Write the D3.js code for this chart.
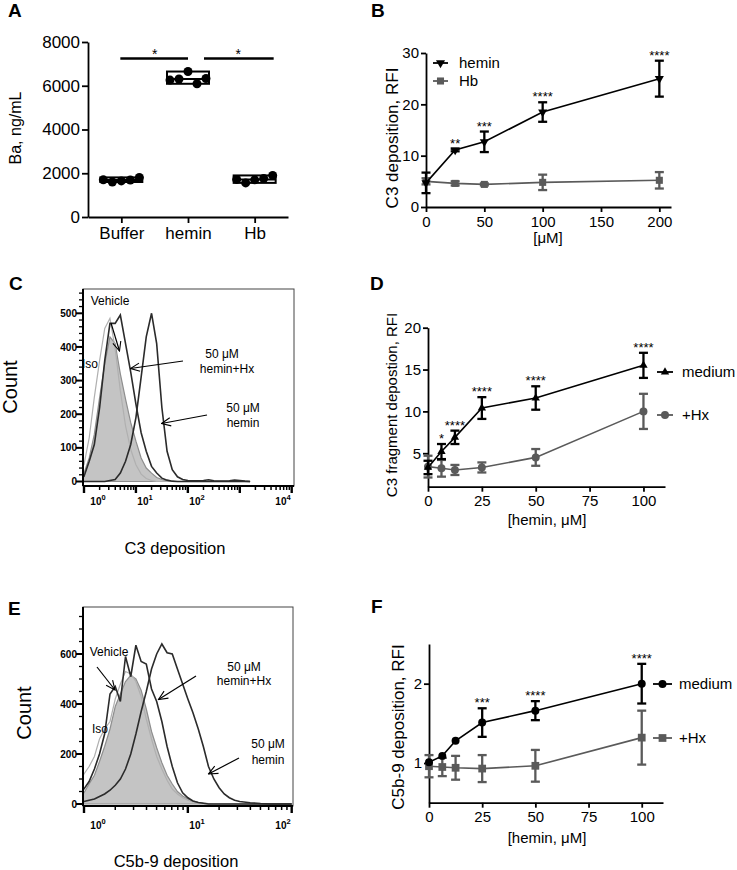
<!DOCTYPE html>
<html>
<head>
<meta charset="utf-8">
<script src="https://cdn.jsdelivr.net/npm/d3@7"></script>
<style>
  body { margin: 0; background: #fff; }
  svg { display: block; }
</style>
</head>
<body>
<script>
// ---- A: Ba, ng/mL ----
var groupsA = ["Buffer", "hemin", "Hb"];
var baBuffer = [1700, 1600, 1650, 1690, 1810];
var baHemin = [6260, 6310, 6650, 6090, 6330];
var baHb = [1720, 1560, 1700, 1760, 1900];

// ---- B: C3 deposition vs dose ----
var doseB = [0, 25, 50, 100, 200];
var heminB = [4.7, 11.1, 12.7, 18.5, 25.0];
var heminBsd = [2.0, 0.25, 2.0, 1.9, 3.5];
var hbB = [5.0, 4.6, 4.4, 4.8, 5.2];
var hbBsd = [0.6, 0.4, 0.2, 1.5, 1.6];
var starsB = ["", "**", "***", "****", "****"];

// ---- C: flow histogram, C3 deposition ----
var binsC = [0.79, 1.0, 1.26, 1.58, 2.0, 2.51, 3.16, 3.98, 5.01, 6.31, 7.94, 10, 12.6, 15.8, 20, 25.1, 31.6, 39.8,
             50.1, 63.1, 79.4, 100, 126, 158, 200, 251, 316, 398, 501, 631, 794, 1000, 1260, 1580];
var isoC   = [40, 50, 130, 250, 360, 455, 485, 395, 270, 165, 95, 50, 22, 9, 3, 0, 0, 0,
              0, 0, 0, 0, 0, 0, 0, 0, 0, 0, 0, 0, 0, 0, 0, 0];
var vehC   = [20, 25, 70, 140, 250, 350, 430, 410, 320, 245, 175, 120, 70, 40, 25, 12, 6, 2,
              0, 0, 0, 0, 0, 0, 0, 0, 0, 0, 0, 0, 0, 0, 0, 0];
var hxC    = [10, 15, 60, 110, 220, 360, 470, 470, 495, 410, 325, 230, 145, 90, 45, 25, 10, 4,
              1, 0, 0, 0, 0, 0, 0, 0, 0, 0, 0, 0, 0, 0, 0, 0];
var heminC = [0, 0, 0, 0, 0, 0, 3, 6, 25, 60, 110, 190, 310, 430, 500, 410, 220, 90,
              35, 14, 6, 3, 2, 2, 3, 5, 2, 1, 1, 2, 4, 3, 1, 0];

// ---- D: C3 fragment deposition ----
var doseD = [0, 6.25, 12.5, 25, 50, 100];
var mediumD = [3.3, 5.2, 6.9, 10.4, 11.6, 15.5];
var mediumDsd = [0.8, 0.9, 0.8, 1.3, 1.4, 1.5];
var hxD = [3.4, 3.2, 3.0, 3.3, 4.5, 10.0];
var hxDsd = [1.3, 1.0, 0.6, 0.6, 1.0, 2.1];
var starsD = ["", "*", "****", "****", "****", "****"];

// ---- E: flow histogram, C5b-9 deposition ----
var binsE = [0.9, 1.0, 1.12, 1.26, 1.41, 1.58, 1.78, 2.0, 2.24, 2.51, 2.82, 3.16, 3.55, 3.98, 4.47, 5.01, 5.62, 6.31, 7.08,
             7.94, 8.91, 10, 11.2, 12.6, 14.1, 15.8, 17.8, 20, 22.4, 25.1, 28.2, 31.6, 39.8, 50.1, 63.1, 79.4, 100];
var isoE   = [90, 120, 150, 190, 260, 300, 330, 420, 480, 530, 520, 490, 430, 340, 260, 190, 140, 95, 60,
              40, 25, 15, 8, 4, 2, 0, 0, 0, 0, 0, 0, 0, 0, 0, 0, 0, 0];
var vehE   = [20, 45, 80, 115, 170, 230, 300, 390, 440, 490, 515, 500, 455, 380, 290, 225, 165, 115, 80,
              50, 32, 20, 12, 7, 4, 2, 0, 0, 0, 0, 0, 0, 0, 0, 0, 0, 0];
var hxE    = [50, 60, 90, 140, 200, 280, 440, 470, 410, 590, 510, 635, 570, 560, 460, 410, 330, 230, 150,
              85, 45, 25, 12, 6, 3, 0, 0, 0, 0, 0, 0, 0, 0, 0, 0, 0, 0];
var heminE = [8, 10, 15, 20, 30, 40, 55, 75, 100, 140, 200, 280, 370, 450, 540, 600, 640, 605, 600,
              540, 480, 420, 365, 300, 230, 150, 100, 65, 40, 25, 15, 10, 5, 2, 0, 0, 0];

// ---- F: C5b-9 deposition ----
var doseF = [0, 6.25, 12.5, 25, 50, 100];
var mediumF = [1.01, 1.09, 1.28, 1.51, 1.66, 2.0];
var mediumFsd = [0, 0, 0, 0.18, 0.12, 0.25];
var hxF = [0.96, 0.95, 0.94, 0.93, 0.965, 1.32];
var hxFsd = [0.14, 0.115, 0.15, 0.17, 0.2, 0.34];
var starsF = ["", "", "", "***", "****", "****"];

var font = '"Liberation Sans", Arial, Helvetica, sans-serif';
var grey = "#5a5a5a";

var svg = d3.select("body").append("svg").attr("width", 737).attr("height", 870)
  .style("font-family", font);
var defs = svg.append("defs");
defs.append("marker").attr("id", "arr").attr("viewBox", "0 0 12 12")
  .attr("refX", 11).attr("refY", 6).attr("markerWidth", 11).attr("markerHeight", 11)
  .attr("markerUnits", "userSpaceOnUse").attr("orient", "auto")
  .append("path").attr("d", "M1,1.5 L11,6 L1,10.5").attr("fill", "none")
  .attr("stroke", "#000").attr("stroke-width", 1.2);

function letter(t, x, y) {
  svg.append("text").attr("x", x).attr("y", y).attr("font-size", 19).attr("font-weight", "bold").text(t);
}

function txt(g, s, x, y, fs, anchor) {
  return g.append("text").attr("x", x).attr("y", y).attr("font-size", fs)
    .attr("text-anchor", anchor || "middle").attr("fill", "#000").text(s);
}

function vtitle(g, s, x, y, fs) {
  g.append("text").attr("transform", "translate(" + x + "," + y + ") rotate(-90)")
    .attr("text-anchor", "middle").attr("font-size", fs).text(s);
}

function styleAxis(a, fs) {
  a.attr("font-family", font).attr("font-size", fs);
  a.selectAll("path,line").attr("stroke", "#000").attr("stroke-width", 1.8);
  a.selectAll("text").attr("fill", "#000");
}

// ================= A =================
(function () {
  var g = svg.append("g");
  var x = d3.scalePoint().domain(groupsA).range([88, 288]).padding(0.5);
  var y = d3.scaleLinear().domain([0, 8000]).range([217, 42]);
  var ya = g.append("g").attr("transform", "translate(88,0)")
    .call(d3.axisLeft(y).tickValues([0, 2000, 4000, 6000, 8000]).tickFormat(d3.format("d"))
      .tickSize(6).tickSizeOuter(0).tickPadding(2));
  var xa = g.append("g").attr("transform", "translate(0,217)")
    .call(d3.axisBottom(x).tickSize(6).tickSizeOuter(0).tickPadding(4));
  styleAxis(ya, 17); styleAxis(xa, 17);

  var sets = [baBuffer, baHemin, baHb];
  groupsA.forEach(function (name, k) {
    var vals = sets[k], cx = x(name);
    var lo = d3.min(vals), hi = d3.max(vals), med = d3.median(vals);
    g.append("rect").attr("x", cx - 21).attr("width", 42).attr("y", y(hi)).attr("height", y(lo) - y(hi))
      .attr("fill", "#fff").attr("stroke", "#000").attr("stroke-width", 2);
    g.append("line").attr("x1", cx - 21).attr("x2", cx + 21).attr("y1", y(med)).attr("y2", y(med))
      .attr("stroke", "#000").attr("stroke-width", 2);
    g.selectAll(null).data(vals).enter().append("circle")
      .attr("cx", function (d, i) { return cx + (i - 2) * 9; })
      .attr("cy", function (d) { return y(d); })
      .attr("r", 4.5).attr("fill", "#000");
  });

  // significance bars
  var by = y(7250);
  g.append("line").attr("x1", x("Buffer") - 1).attr("x2", x("hemin")).attr("y1", by).attr("y2", by)
    .attr("stroke", "#000").attr("stroke-width", 2.5);
  g.append("line").attr("x1", x("hemin") + 16).attr("x2", x("Hb") + 19).attr("y1", by).attr("y2", by)
    .attr("stroke", "#000").attr("stroke-width", 2.5);
  txt(g, "*", (x("Buffer") + x("hemin")) / 2, by + 1, 14);
  txt(g, "*", (x("hemin") + x("Hb")) / 2 + 17, by + 1, 14);

  vtitle(g, "Ba, ng/mL", 21, 128, 16);
})();
letter("A", 8, 17);

// ============ XY panels (B, D, F) ============
function xyPanel(o) {
  var g = svg.append("g");
  var x = o.x, y = o.y;
  var xa = g.append("g").attr("transform", "translate(0," + y.range()[0] + ")")
    .call(d3.axisBottom(x).tickValues(o.xTicks).tickSize(5).tickSizeOuter(0).tickPadding(4));
  var ya = g.append("g").attr("transform", "translate(" + x.range()[0] + ",0)")
    .call(d3.axisLeft(y).tickValues(o.yTicks).tickFormat(d3.format("d")).tickSize(5).tickSizeOuter(0).tickPadding(2));
  styleAxis(xa, o.fs); styleAxis(ya, o.fs);

  o.series.forEach(function (s) {
    var pts = o.dose.map(function (d, i) { return { x: d, m: s.vals[i], e: s.sd[i] }; });
    g.append("path").datum(pts)
      .attr("d", d3.line().x(function (d) { return x(d.x); }).y(function (d) { return y(d.m); }))
      .attr("fill", "none").attr("stroke", s.color).attr("stroke-width", 1.6);
    var eb = g.selectAll(null).data(pts.filter(function (d) { return d.e > 0; })).enter().append("g")
      .attr("stroke", s.color).attr("stroke-width", 2.3);
    eb.append("line").attr("x1", function (d) { return x(d.x); }).attr("x2", function (d) { return x(d.x); })
      .attr("y1", function (d) { return y(d.m - d.e); }).attr("y2", function (d) { return y(d.m + d.e); });
    [-1, 1].forEach(function (sg) {
      eb.append("line").attr("x1", function (d) { return x(d.x) - 4.5; }).attr("x2", function (d) { return x(d.x) + 4.5; })
        .attr("y1", function (d) { return y(d.m + sg * d.e); }).attr("y2", function (d) { return y(d.m + sg * d.e); });
    });
    g.selectAll(null).data(pts).enter().append("path")
      .attr("d", d3.symbol().type(s.sym).size(s.size))
      .attr("transform", function (d) { return "translate(" + x(d.x) + "," + y(d.m) + ")" + (s.flip ? " rotate(180)" : ""); })
      .attr("fill", s.color);
  });

  // significance stars above the top series
  var top = o.series[o.starSeries];
  o.stars.forEach(function (st, i) {
    if (!st) return;
    var yy = top.sd[i] > 0 ? y(top.vals[i] + top.sd[i]) : y(top.vals[i]) - 5;
    txt(g, st, x(o.dose[i]), yy - 1, 13);
  });

  // legend
  o.legend.forEach(function (lg) {
    var s = o.series[lg.s];
    g.append("line").attr("x1", lg.x0).attr("x2", lg.x1).attr("y1", lg.y).attr("y2", lg.y)
      .attr("stroke", s.color).attr("stroke-width", 1.8);
    g.append("path").attr("d", d3.symbol().type(s.sym).size(s.size))
      .attr("transform", "translate(" + (lg.x0 + lg.x1) / 2 + "," + lg.y + ")" + (s.flip ? " rotate(180)" : ""))
      .attr("fill", s.color);
    txt(g, lg.label, lg.tx, lg.y, 15, "start").attr("dy", "0.36em");
  });

  txt(g, o.xTitle, o.xt[0], o.xt[1], 15);
  vtitle(g, o.yTitle, o.yt[0], o.yt[1], o.ytfs);
}

xyPanel({
  x: d3.scaleLinear().domain([0, 210]).range([426, 671]),
  y: d3.scaleLinear().domain([0, 30]).range([207, 53]),
  xTicks: [0, 50, 100, 150, 200], yTicks: [0, 10, 20, 30], fs: 15,
  dose: doseB,
  series: [
    { vals: hbB, sd: hbBsd, color: grey, sym: d3.symbolSquare, size: 50 },
    { vals: heminB, sd: heminBsd, color: "#000", sym: d3.symbolTriangle, size: 36, flip: true }
  ],
  starSeries: 1, stars: starsB,
  legend: [
    { s: 1, label: "hemin", x0: 433, x1: 448, y: 63, tx: 459 },
    { s: 0, label: "Hb", x0: 433, x1: 448, y: 81, tx: 459 }
  ],
  xTitle: "[\u03bcM]", xt: [548, 243],
  yTitle: "C3 deposition, RFI", yt: [398, 138], ytfs: 17
});
letter("B", 371, 17);

xyPanel({
  x: d3.scaleLinear().domain([0, 110]).range([428, 665]),
  y: d3.scaleLinear().domain([1, 20]).range([486.7, 327.7]),
  xTicks: [0, 25, 50, 75, 100], yTicks: [5, 10, 15, 20], fs: 15,
  dose: doseD,
  series: [
    { vals: hxD, sd: hxDsd, color: grey, sym: d3.symbolCircle, size: 50 },
    { vals: mediumD, sd: mediumDsd, color: "#000", sym: d3.symbolTriangle, size: 30 }
  ],
  starSeries: 1, stars: starsD,
  legend: [
    { s: 1, label: "medium", x0: 657, x1: 673, y: 372, tx: 682 },
    { s: 0, label: "+Hx", x0: 657, x1: 673, y: 415, tx: 682 }
  ],
  xTitle: "[hemin, \u03bcM]", xt: [547, 525],
  yTitle: "C3 fragment depostion, RFI", yt: [397, 405], ytfs: 15
});
letter("D", 370, 290);

xyPanel({
  x: d3.scaleLinear().domain([0, 110]).range([429, 663]),
  y: d3.scaleLinear().domain([0.5, 2.5]).range([802.7, 644]),
  xTicks: [0, 25, 50, 75, 100], yTicks: [1, 2], fs: 15,
  dose: doseF,
  series: [
    { vals: hxF, sd: hxFsd, color: grey, sym: d3.symbolSquare, size: 60 },
    { vals: mediumF, sd: mediumFsd, color: "#000", sym: d3.symbolCircle, size: 50 }
  ],
  starSeries: 1, stars: starsF,
  legend: [
    { s: 1, label: "medium", x0: 653, x1: 672, y: 684, tx: 679 },
    { s: 0, label: "+Hx", x0: 653, x1: 672, y: 738, tx: 679 }
  ],
  xTitle: "[hemin, \u03bcM]", xt: [547, 843],
  yTitle: "C5b-9 deposition, RFI", yt: [404, 727], ytfs: 17
});
letter("F", 371, 613);

// ============ flow histograms (C, E) ============
function flowPanel(o) {
  var g = svg.append("g");
  var x = o.x, y = o.y;
  defs.append("clipPath").attr("id", o.id).append("rect")
    .attr("x", o.left).attr("y", o.top).attr("width", o.right - o.left).attr("height", o.axisY - o.top - 1);
  var plot = g.append("g").attr("clip-path", "url(#" + o.id + ")");
  var line = d3.line().x(function (d) { return x(d[0]); }).y(function (d) { return y(d[1]); });
  var area = d3.area().x(function (d) { return x(d[0]); }).y0(y(0)).y1(function (d) { return y(d[1]); });

  plot.append("path").attr("d", area(d3.zip(o.bins, o.veh)))
    .attr("fill", "#c4c4c4").attr("stroke", "#8e8e8e").attr("stroke-width", 1.2);
  plot.append("path").attr("d", line(d3.zip(o.bins, o.iso)))
    .attr("fill", "none").attr("stroke", "#b0b0b0").attr("stroke-width", 1.2);
  [o.hx, o.hemin].forEach(function (c) {
    plot.append("path").attr("d", line(d3.zip(o.bins, c)))
      .attr("fill", "none").attr("stroke", "#2b2b2b").attr("stroke-width", 1.6);
  });

  g.append("rect").attr("x", o.left).attr("y", o.top).attr("width", o.right - o.left).attr("height", o.axisY - o.top)
    .attr("fill", "none").attr("stroke", "#444").attr("stroke-width", 1);

  // y axis
  g.append("line").attr("x1", o.left).attr("x2", o.left).attr("y1", o.top).attr("y2", o.axisY)
    .attr("stroke", "#000").attr("stroke-width", 2);
  var yt = d3.range(0, o.yTop + 1, o.yMinor);
  g.selectAll(null).data(yt).enter().append("line")
    .attr("x1", o.left).attr("x2", function (d) { return o.left - (d % o.yMajor === 0 ? 7 : 4); })
    .attr("y1", function (d) { return y(d); }).attr("y2", function (d) { return y(d); })
    .attr("stroke", "#000").attr("stroke-width", function (d) { return d % o.yMajor === 0 ? 2 : 1.3; });
  g.selectAll(null).data(yt.filter(function (d) { return d % o.yMajor === 0 && d <= o.yLabelMax; }))
    .enter().append("text")
    .attr("x", o.left - 6).attr("y", function (d) { return y(d); }).attr("dy", "0.36em")
    .attr("text-anchor", "end").attr("font-size", 10).attr("font-weight", "bold").text(function (d) { return d; });

  // x axis (log)
  g.append("line").attr("x1", o.left).attr("x2", o.right).attr("y1", o.axisY).attr("y2", o.axisY)
    .attr("stroke", "#000").attr("stroke-width", 2);
  var ticks = [];
  o.decades.forEach(function (d, i) {
    ticks.push({ v: d, major: true });
    if (i < o.decades.length - 1) d3.range(2, 10).forEach(function (m) { ticks.push({ v: d * m, major: false }); });
  });
  g.selectAll(null).data(ticks).enter().append("line")
    .attr("x1", function (d) { return x(d.v); }).attr("x2", function (d) { return x(d.v); })
    .attr("y1", o.axisY).attr("y2", function (d) { return o.axisY + (d.major ? 7 : 4); })
    .attr("stroke", "#000").attr("stroke-width", function (d) { return d.major ? 2.4 : 1.5; });
  o.xLabels.forEach(function (p, i) {
    var t = g.append("text").attr("x", o.xLabelPos[i]).attr("y", o.labelY)
      .attr("text-anchor", "middle").attr("font-size", 10).attr("font-weight", "bold");
    t.append("tspan").text("10");
    t.append("tspan").attr("dy", -5).attr("font-size", 7.5).text(p);
  });

  // annotations
  o.notes.forEach(function (n) { txt(g, n[0], n[1], n[2], 12, n[3] || "middle"); });
  o.arrows.forEach(function (a) {
    g.append("line").attr("x1", a[0]).attr("y1", a[1]).attr("x2", a[2]).attr("y2", a[3])
      .attr("stroke", "#000").attr("stroke-width", 1.2).attr("marker-end", "url(#arr)");
  });

  txt(g, o.xTitle, o.xt[0], o.xt[1], 16.5);
  vtitle(g, "Count", o.ct[0], o.ct[1], 20);
}

flowPanel({
  id: "clipC",
  x: d3.scaleLog().domain([1, 10000]).range([84, 291.7]),
  y: d3.scaleLinear().domain([0, 500]).range([481.5, 313.3]),
  left: 83, right: 294, top: 289, axisY: 486,
  bins: binsC, iso: isoC, veh: vehC, hx: hxC, hemin: heminC,
  yTop: 560, yMinor: 20, yMajor: 100, yLabelMax: 500,
  decades: [1, 10, 100, 1000, 10000],
  xLabels: ["0", "1", "2", "4"], xLabelPos: [98, 145, 197, 283], labelY: 505,
  notes: [["Vehicle", 110, 305], ["Iso", 82, 368, "start"],
          ["50 \u03bcM", 222, 358], ["hemin+Hx", 227, 373],
          ["50 \u03bcM", 243, 412], ["hemin", 243, 427]],
  arrows: [[111, 323, 119.5, 351], [183, 361, 130.5, 368.5], [207, 415, 161.5, 423.5]],
  xTitle: "C3 deposition", xt: [175, 554], ct: [17, 387]
});
letter("C", 9, 290);

flowPanel({
  id: "clipE",
  x: d3.scaleLog().domain([1, 100]).range([84, 291.7]),
  y: d3.scaleLinear().domain([0, 600]).range([804, 654]),
  left: 83, right: 293, top: 607, axisY: 806,
  bins: binsE, iso: isoE, veh: vehE, hx: hxE, hemin: heminE,
  yTop: 750, yMinor: 50, yMajor: 200, yLabelMax: 600,
  decades: [1, 10, 100],
  xLabels: ["0", "1", "2"], xLabelPos: [98, 197, 283], labelY: 829,
  notes: [["Vehicle", 109, 656], ["Iso", 92, 733, "start"],
          ["50 \u03bcM", 244, 671], ["hemin+Hx", 244, 685],
          ["50 \u03bcM", 268, 748], ["hemin", 268, 764]],
  arrows: [[97, 667, 115, 690], [196, 676, 158.5, 699.5], [239, 758, 208.5, 774]],
  xTitle: "C5b-9 deposition", xt: [176, 867], ct: [31, 713]
});
letter("E", 8, 615);
</script>
</body>
</html>
